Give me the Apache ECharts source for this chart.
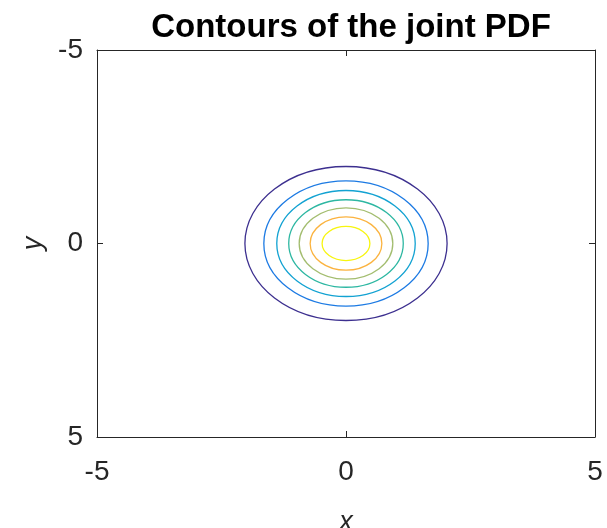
<!DOCTYPE html>
<html>
<head>
<meta charset="utf-8">
<script src="https://cdn.jsdelivr.net/npm/echarts@6/dist/echarts.min.js"></script>
<style>
  html, body { margin: 0; padding: 0; background: #fff; }
  #chart { width: 607px; height: 528px; }
</style>
</head>
<body>
<div id="chart"></div>
<script>
// Contour levels of the joint PDF (outer to inner)
const contourLevels = [0.02, 0.04, 0.06, 0.08, 0.10, 0.12, 0.14];
// Contour half-widths / half-heights (data units)
const contourRadiusX = [2.03, 1.65, 1.39, 1.15, 0.94, 0.72, 0.48];
const contourRadiusY = [1.99, 1.62, 1.37, 1.13, 0.92, 0.69, 0.44];
const contourCenter = [0, 0];
const contourColors = ['#3c2f8f', '#1c7ae3', '#12a2d2', '#2db7a2', '#a3bd6f', '#fbb33f', '#f7f50f'];
const xTicks = [-5, 0, 5];
const yTicks = [-5, 0, 5];

const txt = '#262626';
const font = 'Liberation Sans, Arial, Helvetica, sans-serif';

const data = contourLevels.map((lv, i) => [contourCenter[0], contourCenter[1], contourRadiusX[i], contourRadiusY[i], i, lv]);

const chart = echarts.init(document.getElementById('chart'), null, { renderer: 'canvas' });

const baseAxis = {
  type: 'value',
  min: -5,
  max: 5,
  interval: 5,
  splitLine: { show: false },
  axisLine: { show: true, onZero: false, lineStyle: { color: txt, width: 1 } },
  axisTick: { show: true, inside: true, length: 6, lineStyle: { color: txt, width: 1 } }
};

chart.setOption({
  animation: false,
  backgroundColor: '#fff',
  title: {
    text: 'Contours of the joint PDF',
    left: 346,
    top: 6,
    textAlign: 'center',
    textStyle: { fontFamily: font, fontWeight: 'bold', fontSize: 33, color: '#000' }
  },
  grid: { left: 97, right: 12, top: 50, bottom: 91, containLabel: false, outerBoundsMode: 'none' },
  xAxis: [
    Object.assign({}, baseAxis, {
      position: 'bottom',
      name: 'x',
      nameLocation: 'middle',
      nameGap: 72,
      nameTextStyle: { fontFamily: font, fontStyle: 'italic', fontSize: 27, color: txt },
      axisLabel: {
        fontFamily: font, fontSize: 28, color: txt, margin: 21,
        formatter: v => xTicks.includes(v) ? String(v) : ''
      }
    }),
    Object.assign({}, baseAxis, { position: 'top', axisLabel: { show: false } })
  ],
  yAxis: [
    Object.assign({}, baseAxis, {
      position: 'left',
      inverse: true,
      name: 'y',
      nameLocation: 'middle',
      nameRotate: 90,
      nameGap: 50,
      nameTextStyle: { fontFamily: font, fontStyle: 'italic', fontSize: 27, color: txt },
      axisLabel: {
        fontFamily: font, fontSize: 28, color: txt, margin: 14,
        padding: [8, 0, 0, 0],
        formatter: v => yTicks.includes(v) ? String(v) : ''
      }
    }),
    Object.assign({}, baseAxis, { position: 'right', inverse: true, axisLabel: { show: false } })
  ],
  series: [{
    type: 'custom',
    xAxisIndex: 0,
    yAxisIndex: 0,
    clip: true,
    encode: { x: 0, y: 1 },
    data: data,
    renderItem: function (params, api) {
      const c = api.coord([api.value(0), api.value(1)]);
      const s = api.size([api.value(2), api.value(3)]);
      return {
        type: 'ellipse',
        shape: { cx: c[0], cy: c[1], rx: s[0], ry: s[1] },
        style: { fill: 'none', stroke: contourColors[api.value(4)], lineWidth: 1.3 }
      };
    }
  }]
});
</script>
</body>
</html>
